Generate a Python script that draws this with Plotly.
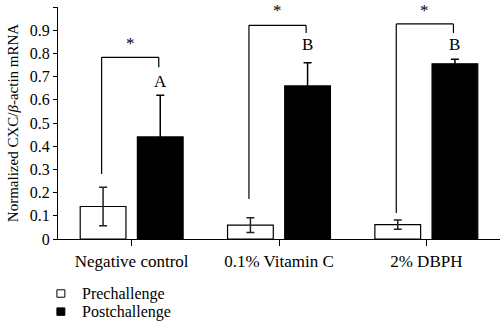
import plotly.graph_objects as go

# Group labels and measured CXC/beta-actin expression (mean and SD)
groups = ["Negative control", "0.1% Vitamin C", "2% DBPH"]
pre_mean = [0.14, 0.06, 0.062]
pre_sd = [0.083, 0.032, 0.02]
post_mean = [0.44, 0.66, 0.755]
post_sd = [0.18, 0.10, 0.02]

# Significance brackets: top level, left/right leg ends, star and letter labels
bracket_top = [0.783, 0.921, 0.927]
bracket_left_end = [0.28, 0.172, 0.112]
bracket_right_end = [0.74, 0.888, 0.888]
star_y = [0.795, 0.935, 0.935]
letters = ["A", "B", "B"]
letter_y = [0.628, 0.787, 0.787]

# Legend entries (name, fill colour)
legend_items = [("Prechallenge", "white"), ("Postchallenge", "black")]

FONT = "Liberation Serif"
half_sep = 0.194

fig = go.Figure()
fig.add_trace(go.Bar(
    name="Prechallenge", x=groups, y=pre_mean,
    marker=dict(color="white", line=dict(color="black", width=1.2)),
    error_y=dict(type="data", array=pre_sd, color="#222", thickness=1.5, width=4),
))
fig.add_trace(go.Bar(
    name="Postchallenge", x=groups, y=post_mean,
    marker=dict(color="black", line=dict(color="black", width=1.2)),
    error_y=dict(type="data", array=post_sd, color="black", thickness=1.5, width=4),
))

shapes = []
annotations = []
for i in range(len(groups)):
    xl = i - half_sep - 0.01
    xr = i + half_sep - 0.01
    line = dict(color="black", width=1.2)
    shapes.append(dict(type="line", xref="x", yref="y", x0=xl, x1=xl,
                       y0=bracket_left_end[i], y1=bracket_top[i], line=line))
    shapes.append(dict(type="line", xref="x", yref="y", x0=xl, x1=xr,
                       y0=bracket_top[i], y1=bracket_top[i], line=line))
    shapes.append(dict(type="line", xref="x", yref="y", x0=xr, x1=xr,
                       y0=bracket_top[i], y1=bracket_right_end[i], line=line))
    annotations.append(dict(x=(xl + xr) / 2, y=star_y[i], xref="x", yref="y",
                            text="*", showarrow=False, yanchor="bottom",
                            font=dict(family=FONT, size=17, color="black")))
    annotations.append(dict(x=i + half_sep, y=letter_y[i], xref="x", yref="y",
                            text=letters[i], showarrow=False, yanchor="bottom",
                            font=dict(family=FONT, size=17, color="black")))

# Compact legend below the axis: small square swatch plus label
for k, (name, color) in enumerate(legend_items):
    yc = -0.235 - 0.078 * k
    shapes.append(dict(type="rect", xref="paper", yref="paper",
                       x0=-0.0025, x1=0.0155, y0=yc - 0.016, y1=yc + 0.016,
                       fillcolor=color, line=dict(color="black", width=1)))
    annotations.append(dict(x=0.05, y=yc, xref="paper", yref="paper",
                            text=name, showarrow=False, xanchor="left", yanchor="middle",
                            font=dict(family=FONT, size=16, color="black")))

fig.update_layout(
    width=500, height=328,
    margin=dict(l=58, r=0, t=7, b=89, autoexpand=False),
    plot_bgcolor="white", paper_bgcolor="white",
    barmode="group", bargap=0.224, bargroupgap=0.2,
    showlegend=False,
    font=dict(family=FONT, size=15, color="black"),
    shapes=shapes, annotations=annotations,
    xaxis=dict(range=[-0.5, 2.5], showline=True, linecolor="black", linewidth=1.2,
               ticks="outside", ticklen=6, tickcolor="black",
               tickfont=dict(family=FONT, size=17), showgrid=False),
    yaxis=dict(range=[0, 1], dtick=0.1, tickformat="~g",
               showline=True, linecolor="black", linewidth=1.2,
               ticks="outside", ticklen=4, tickcolor="black",
               tickfont=dict(family=FONT, size=16), showgrid=False, zeroline=False,
               title=dict(text="Normalized CXC/<i>β</i>-actin mRNA",
                          font=dict(family=FONT, size=15), standoff=7)),
)

fig.write_html("out.html")
